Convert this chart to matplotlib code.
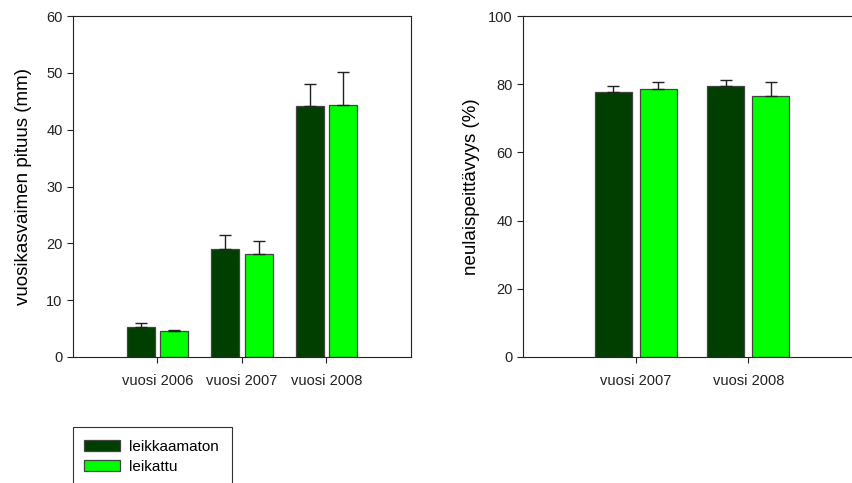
import numpy as np
import matplotlib.pyplot as plt
from matplotlib.patches import Rectangle

plt.rcParams['font.family'] = ['Liberation Sans', 'DejaVu Sans']

# vuosikasvaimen pituus (mm)
years_a = ['vuosi 2006', 'vuosi 2007', 'vuosi 2008']
uncut_len = [5.3, 19.0, 44.1]
uncut_len_err = [0.6, 2.4, 3.9]
cut_len = [4.5, 18.1, 44.3]
cut_len_err = [0.3, 2.3, 5.8]

# neulaispeittävyys (%)
years_b = ['vuosi 2007', 'vuosi 2008']
uncut_cov = [77.6, 79.4]
uncut_cov_err = [1.9, 1.8]
cut_cov = [78.7, 76.4]
cut_cov_err = [1.8, 4.3]

dark = '#003f00'
light = '#00ff00'
w = 0.33

fig = plt.figure(figsize=(8.53, 4.83), dpi=100)
W, H = 853, 483
ax1 = fig.add_axes([73 / W, 1 - 357 / H, (411 - 73) / W, (357 - 16) / H])
ax2 = fig.add_axes([523 / W, 1 - 357 / H, (861 - 523) / W, (357 - 16) / H])


def draw(ax, labels, v1, e1, v2, e2, ymax, ystep, xlim):
    x = np.arange(len(labels))
    err_kw = dict(elinewidth=1.0, capsize=4.3, capthick=1.0, ecolor='#222222')
    ax.bar(x - 0.2, v1, w, yerr=[np.zeros(len(x)), e1], color=dark,
           edgecolor='#444444', linewidth=0.9, error_kw=err_kw, label='leikkaamaton')
    ax.bar(x + 0.2, v2, w, yerr=[np.zeros(len(x)), e2], color=light,
           edgecolor='#444444', linewidth=0.9, error_kw=err_kw, label='leikattu')
    ax.set_xlim(*xlim)
    ax.set_ylim(0, ymax)
    ax.set_yticks(np.arange(0, ymax + 1, ystep))
    ax.set_xticks(x)
    ax.set_xticklabels(labels)
    ax.tick_params(axis='both', direction='out', length=4, width=0.8,
                   labelsize=10.5, colors='#222222')
    ax.tick_params(axis='x', pad=8)
    for s in ax.spines.values():
        s.set_linewidth(0.8)
        s.set_color('#222222')


draw(ax1, years_a, uncut_len, uncut_len_err, cut_len, cut_len_err, 60, 10, (-1, 3))
ax1.set_ylabel('vuosikasvaimen pituus (mm)', fontsize=13.5, labelpad=10)

draw(ax2, years_b, uncut_cov, uncut_cov_err, cut_cov, cut_cov_err, 100, 20, (-1, 2))
ax2.set_ylabel('neulaispeittävyys (%)', fontsize=13.5, labelpad=6)

# legend box runs off the bottom edge
fig.patches.append(Rectangle((73 / W, 1 - 500 / H), (232 - 73) / W, (500 - 427) / H,
                             transform=fig.transFigure, fill=False,
                             edgecolor='#333333', linewidth=0.8))
handles, lbls = ax1.get_legend_handles_labels()
fig.legend(handles, lbls, loc='upper left', bbox_to_anchor=(84 / W, 1 - 440 / H),
           frameon=False, fontsize=11, handlelength=2.35, handleheight=0.75,
           handletextpad=0.6, labelspacing=0.4, borderaxespad=0, borderpad=0)

fig.savefig('out.png', dpi=100)
